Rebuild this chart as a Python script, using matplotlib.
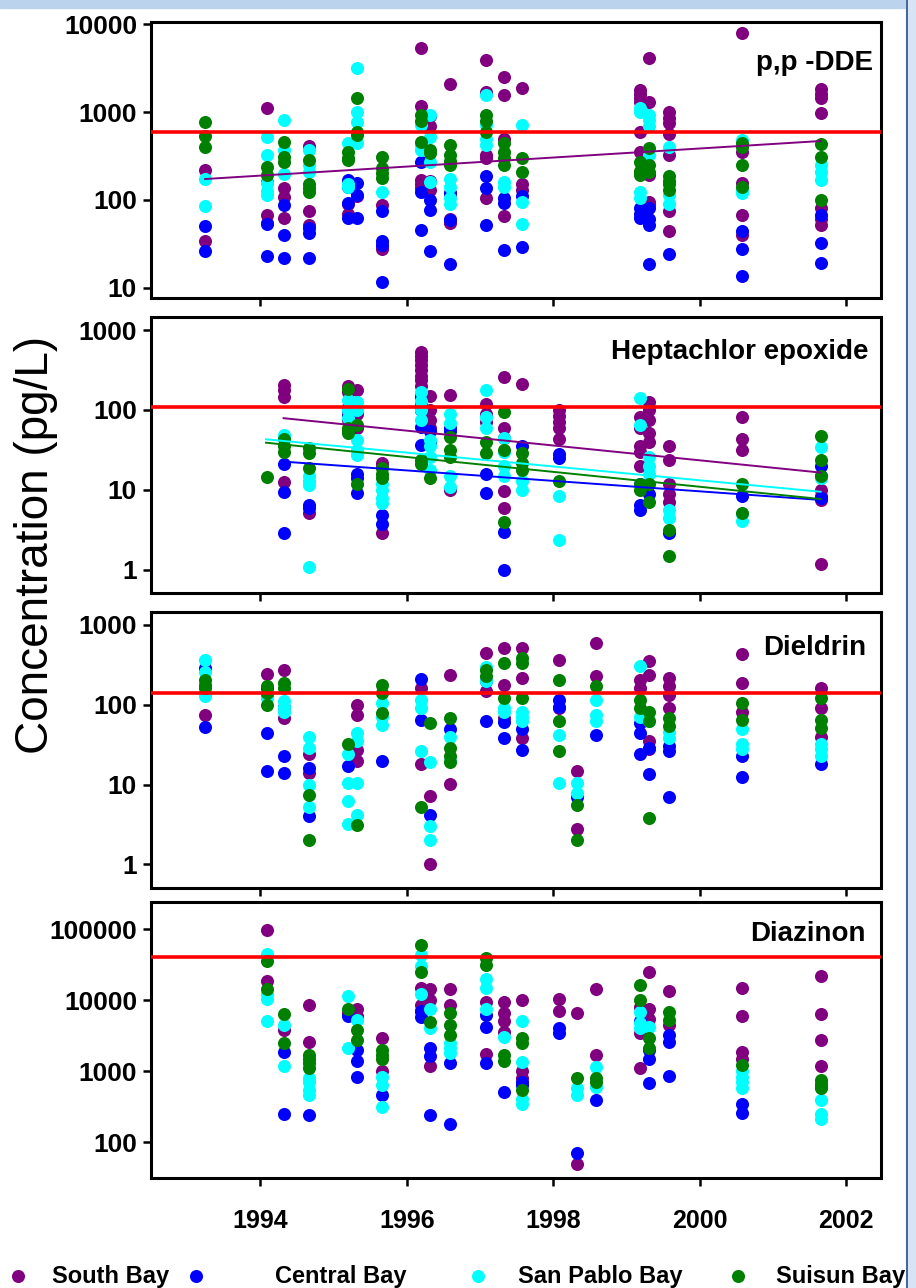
import matplotlib
matplotlib.use('Agg')
import matplotlib.pyplot as plt
from matplotlib.lines import Line2D
from matplotlib.patches import Rectangle
import numpy as np

# cruise dates (decimal year)
DATES = [1993.25, 1994.09, 1994.32, 1994.67, 1995.20, 1995.32, 1995.66, 1996.19, 1996.32, 1996.59,
         1997.08, 1997.33, 1997.58, 1998.08, 1998.32, 1998.58, 1999.18, 1999.31, 1999.58, 2000.58,
         2001.65]

REGIONS = ['South Bay', 'Central Bay', 'San Pablo Bay', 'Suisun Bay']
COLORS = ['#800080', '#0000ff', '#00ffff', '#008000']

# values per cruise index, pg/L
DDE_SOUTH = {0: [220, 34], 1: [1120, 160, 68, 55], 2: [135, 108, 62], 3: [410, 74, 52], 4: [90, 70],
             5: [110], 6: [88, 28, 30], 7: [5290, 1180, 168, 135, 150], 8: [900, 700, 165, 130],
             9: [2070, 120, 60, 55], 10: [3960, 1700, 325, 300, 105], 11: [2520, 1560, 500, 65],
             12: [1890, 130, 150], 16: [1780, 1600, 1430, 1300, 600, 355], 17: [4070, 1300, 190, 88, 95],
             18: [1000, 850, 745, 570, 325, 44, 75], 19: [8000, 350, 155, 68, 40],
             20: [1830, 1600, 1430, 965, 52, 60, 80]}
DDE_CENTRAL = {0: [51, 26], 1: [53, 23], 2: [88, 40, 22], 3: [48, 42, 22], 4: [170, 140, 92, 62],
               5: [155, 115, 62], 6: [74, 34, 31, 11.8], 7: [273, 124, 46], 8: [100, 77, 26],
               9: [120, 59, 18.5], 10: [185, 135, 52], 11: [105, 92, 27], 12: [110, 29],
               16: [80, 62, 70], 17: [80, 52, 18.5, 60], 18: [24], 19: [44, 28, 13.5], 20: [68, 32, 19]}
DDE_SANPABLO = {0: [175, 86], 1: [525, 325, 155, 115, 125], 2: [810, 370, 195], 3: [370, 210, 250],
                4: [440, 150, 140], 5: [3130, 1000, 780, 450], 6: [124], 7: [720, 370, 420],
                8: [925, 520, 273, 162], 9: [175, 105, 90, 140], 10: [1560, 710, 420, 500],
                11: [160, 140], 12: [710, 95, 53], 16: [1000, 1100, 124, 105], 17: [925, 820, 700, 325],
                18: [400, 115, 90], 19: [480, 130, 120], 20: [210, 170, 250]}
DDE_SUISUN = {0: [776, 530, 400], 1: [240, 190], 2: [460, 310, 273], 3: [285, 150, 124, 135],
              4: [355, 285, 300], 5: [1450, 550, 600], 6: [310, 230, 180, 200], 7: [925, 460, 800],
              8: [370, 340], 9: [420, 325, 250, 280], 10: [925, 600, 800], 11: [440, 355, 250, 300],
              12: [300, 210], 16: [273, 215, 200, 190], 17: [390, 250, 210], 18: [185, 150, 165, 130],
              19: [440, 250, 140, 400], 20: [430, 310, 100]}

HEPT_SOUTH = {2: [205, 147, 180, 12.7], 3: [5.1], 4: [200, 170, 110, 75], 5: [180, 90, 60],
              6: [22, 2.9, 20], 7: [530, 470, 422, 370, 316, 270, 237, 200, 160, 120, 100],
              8: [150, 100, 75, 60], 9: [154, 10], 10: [120, 90, 70], 11: [260, 59, 45, 9.6, 5.9],
              12: [211], 13: [100, 85, 70, 60, 44], 16: [82, 60, 35, 30, 20],
              17: [127, 100, 75, 51, 40], 18: [35, 24, 12, 9, 7], 19: [81, 44, 32], 20: [10, 8.5, 7.5, 1.2]}
HEPT_CENTRAL = {2: [21, 9.5, 2.9], 3: [5.9, 6.5], 4: [87, 100], 5: [16, 9.1, 14], 6: [4.9, 3.8],
                7: [147, 62, 37, 100], 8: [40, 55], 9: [55, 60], 10: [16, 9.1], 11: [3, 1], 12: [35],
                13: [25, 28], 16: [12, 5.6, 6.5], 17: [9], 18: [2.9], 19: [8.3], 20: [15, 20, 8]}
HEPT_SANPABLO = {2: [46, 48], 3: [11.5, 13, 15, 1.1], 4: [133, 100, 80], 5: [127, 42, 32, 100, 27],
                 6: [10, 6.8, 8, 12], 7: [168, 100, 75, 130], 8: [42, 26, 18, 35], 9: [90, 68, 15, 11],
                 10: [180, 82, 60], 11: [15, 45, 20, 30], 12: [10, 13], 13: [8.3, 2.4], 16: [140, 65],
                 17: [26, 20, 16], 18: [5.6, 4.5], 19: [4.1, 5], 20: [34, 14]}
HEPT_SUISUN = {1: [14.7], 2: [44, 35, 30], 3: [33, 29, 19], 4: [185, 56, 51, 60], 5: [65, 12],
               6: [16, 19, 14], 7: [24, 21], 8: [14], 9: [46, 32, 26], 10: [40, 29], 11: [95, 32, 4],
               12: [29, 17.8, 22], 13: [13], 16: [12, 10], 17: [12, 7], 18: [3.2, 1.5], 19: [12, 5.1],
               20: [47, 24, 15]}

DIEL_SOUTH = {0: [75], 1: [240, 130], 2: [273, 68], 3: [14, 24], 5: [100, 75, 27, 20], 7: [160, 18],
              8: [7.2, 1], 9: [237, 10.2], 10: [440, 150], 11: [510, 178, 68], 12: [510, 215, 38],
              13: [365, 90], 14: [14.7, 2.8], 15: [600, 230], 16: [205, 160], 17: [350, 237, 35, 28],
              18: [215, 170, 133, 90], 19: [430, 185, 80], 20: [160, 90, 40]}
DIEL_CENTRAL = {0: [290, 52], 1: [160, 44, 15], 2: [95, 23, 14], 3: [16, 4], 4: [17], 6: [20],
                7: [210, 65], 8: [4.2], 9: [50], 10: [62, 200], 11: [38, 60], 12: [27, 50],
                13: [115, 95], 14: [7], 15: [42], 16: [59, 44, 24], 17: [29, 13.5], 18: [26, 6.9, 30],
                19: [23, 12.3], 20: [18]}
DIEL_SANPABLO = {0: [365, 127, 260], 1: [140, 120], 2: [110, 82, 95], 3: [40, 29, 5.3, 10],
                 4: [24, 10.5, 6.2, 3.2], 5: [44, 10.5, 4.2, 35], 6: [105, 56, 70], 7: [115, 26, 90],
                 8: [19, 3, 2], 9: [40, 20], 10: [300, 200], 11: [90, 80], 12: [82, 62, 70],
                 13: [42, 10.5], 14: [10.5, 7.8], 15: [115, 75, 62], 16: [310, 70], 17: [62],
                 18: [38, 45], 19: [49, 32, 28], 20: [32, 23, 28]}
DIEL_SUISUN = {0: [205, 178, 160], 1: [170, 100, 140], 2: [185, 160], 3: [7.3, 2], 4: [32], 5: [3.1],
               6: [178, 140, 79], 7: [5.2], 8: [59], 9: [68, 29, 23, 19], 10: [275, 230], 11: [330, 121],
               12: [380, 330, 121], 13: [205, 62, 26], 14: [5.5, 2], 15: [170], 16: [115, 90],
               17: [82, 62, 3.8], 18: [68, 54], 19: [105, 65], 20: [121, 65, 51]}

DIAZ_SOUTH = {1: [98000, 18500], 2: [3800], 3: [8500, 2540], 4: [6500], 5: [7600, 6000], 6: [2900, 1000],
              7: [14700, 8500, 7000], 8: [14300, 10000, 1190], 9: [14300, 8500], 10: [9500, 1770],
              11: [9500, 6500, 5000, 3500], 12: [10000, 1000, 800], 13: [10300, 7000], 14: [6500, 50],
              15: [14300, 1680], 16: [3400, 1100, 8000], 17: [24500, 7600, 5500], 18: [13400, 4500],
              19: [14900, 6000, 1860, 1500], 20: [22000, 6350, 2740, 1190, 600]}
DIAZ_CENTRAL = {2: [1880, 250], 3: [245], 4: [6000], 5: [1400, 830, 2000], 6: [460], 7: [5800, 7000],
                8: [2150, 1650, 245], 9: [1300, 183], 10: [6150, 4200, 1300], 11: [510], 12: [636, 700],
                13: [4000, 3400], 14: [71], 15: [390], 16: [5000], 17: [1500, 670, 2000],
                18: [3200, 2600, 850], 19: [350, 255]}
DIAZ_SANPABLO = {1: [45000, 10500, 5050, 12000], 2: [4450, 1200], 3: [700, 460, 550, 800],
                 4: [11500, 2100], 5: [5200], 6: [830, 636, 315], 7: [43000, 12000, 30000], 8: [7600, 4000],
                 9: [2100, 1800, 2500], 10: [20000, 7600, 15000], 11: [3050], 12: [5000, 1360, 350, 400],
                 14: [570, 460], 15: [1150, 600], 16: [6700, 4700, 4000], 17: [4200],
                 19: [830, 575, 700, 1000], 20: [390, 250, 210]}
DIAZ_SUISUN = {1: [35000, 14300], 2: [6300, 2460], 3: [1680, 1300, 1500, 1100], 4: [7600], 5: [3800, 2740],
               6: [1680, 1500, 2000], 7: [59600, 25000], 8: [4950], 9: [6500, 4450, 3200], 10: [38500, 31000],
               11: [1680, 1400], 12: [2900, 2500, 540], 14: [790], 15: [800, 700], 16: [16300, 10000],
               17: [2900, 2100], 18: [6850, 5200], 19: [1215], 20: [750, 570, 650]}

# guideline values (red lines)
GUIDELINES = [600, 110, 140, 40000]
TITLES = ['p,p -DDE', 'Heptachlor epoxide', 'Dieldrin', 'Diazinon']

# trend lines: (region index, start year, start value, end year, end value)
DDE_TRENDS = [(0, 1993.25, 173, 2001.65, 468)]
HEPT_TRENDS = [(0, 1994.32, 79, 2001.65, 16.5), (1, 1994.32, 22.6, 2001.65, 7.5),
               (2, 1994.08, 43, 2001.65, 9.5), (3, 1994.08, 39, 2001.65, 7.7)]

PANELS = [
    ([DDE_SOUTH, DDE_CENTRAL, DDE_SANPABLO, DDE_SUISUN], DDE_TRENDS, (7.6, 10500), [10, 100, 1000, 10000]),
    ([HEPT_SOUTH, HEPT_CENTRAL, HEPT_SANPABLO, HEPT_SUISUN], HEPT_TRENDS, (0.51, 1443), [1, 10, 100, 1000]),
    ([DIEL_SOUTH, DIEL_CENTRAL, DIEL_SANPABLO, DIEL_SUISUN], [], (0.51, 1466), [1, 10, 100, 1000]),
    ([DIAZ_SOUTH, DIAZ_CENTRAL, DIAZ_SANPABLO, DIAZ_SUISUN], [], (31, 238000), [100, 1000, 10000, 100000]),
]

plt.rcParams['font.family'] = ['Liberation Sans', 'DejaVu Sans']

fig = plt.figure(figsize=(9.16, 12.88), dpi=100)

# slide decoration: blue band at top and right
fig.add_artist(Rectangle((0, 1 - 8 / 1288), 1, 8 / 1288, transform=fig.transFigure,
                         color='#bcd3ee', zorder=0))
fig.add_artist(Rectangle((906 / 916, 0), 10 / 916, 1, transform=fig.transFigure,
                         color='#d6e4f5', zorder=0))
fig.add_artist(Line2D([907 / 916, 907 / 916], [0, 1], transform=fig.transFigure,
                      color='#2a4f8a', lw=1.2))

left, width = 151 / 916, 729.7 / 916
tops = [22.3, 317.3, 611.7, 902.3]
h_px = 276.0
title_pos = [(0.99, 0.853), (0.983, 0.875), (0.98, 0.868), (0.98, 0.885)]

axes = []
for k, (series, trends, ylim, yticks) in enumerate(PANELS):
    bottom = 1 - (tops[k] + h_px) / 1288
    ax = fig.add_axes([left, bottom, width, h_px / 1288])
    axes.append(ax)
    for r, data in enumerate(series):
        xs, ys = [], []
        for idx, vals in data.items():
            for v in vals:
                xs.append(DATES[idx])
                ys.append(v)
        ax.plot(xs, ys, linestyle='none', marker='o', markersize=9.4,
                markeredgewidth=0, color=COLORS[r], zorder=2 + r * 0.1)
    for r, x0, y0, x1, y1 in trends:
        ax.plot([x0, x1], [y0, y1], color=COLORS[r], lw=1.4, zorder=3)
    ax.axhline(GUIDELINES[k], color='#ff0000', lw=2.6, zorder=4)
    ax.set_yscale('log')
    ax.set_ylim(*ylim)
    ax.set_xlim(1992.51, 2002.47)
    ax.set_yticks(yticks)
    ax.set_yticklabels([str(t) for t in yticks])
    ax.yaxis.set_minor_locator(matplotlib.ticker.NullLocator())
    ax.set_xticks([1994, 1996, 1998, 2000, 2002])
    ax.tick_params(axis='both', direction='out', length=6, width=1.8, labelsize=19, pad=4)
    ax.tick_params(axis='x', pad=16, labelsize=18)
    for lab in ax.get_yticklabels() + ax.get_xticklabels():
        lab.set_fontweight('bold')
    if k < 3:
        ax.set_xticklabels([])
    for s in ax.spines.values():
        s.set_linewidth(2.2)
    ax.text(title_pos[k][0], title_pos[k][1], TITLES[k], transform=ax.transAxes,
            ha='right', va='center', fontsize=20, fontweight='bold')

fig.text(36 / 916, 1 - 545 / 1288, 'Concentration (pg/L)', rotation=90,
         ha='center', va='center', fontsize=33)

# legend row
leg_y = 1 - 1276 / 1288
marker_x = [18, 196, 478, 738]
text_x = [52, 275, 518, 776]
for r in range(4):
    fig.add_artist(Line2D([marker_x[r] / 916], [leg_y], transform=fig.transFigure,
                          linestyle='none', marker='o', markersize=9.4,
                          markeredgewidth=0, color=COLORS[r]))
    fig.text(text_x[r] / 916, leg_y, REGIONS[r], ha='left', va='center',
             fontsize=17, fontweight='bold')

fig.savefig('out.png', dpi=100)
